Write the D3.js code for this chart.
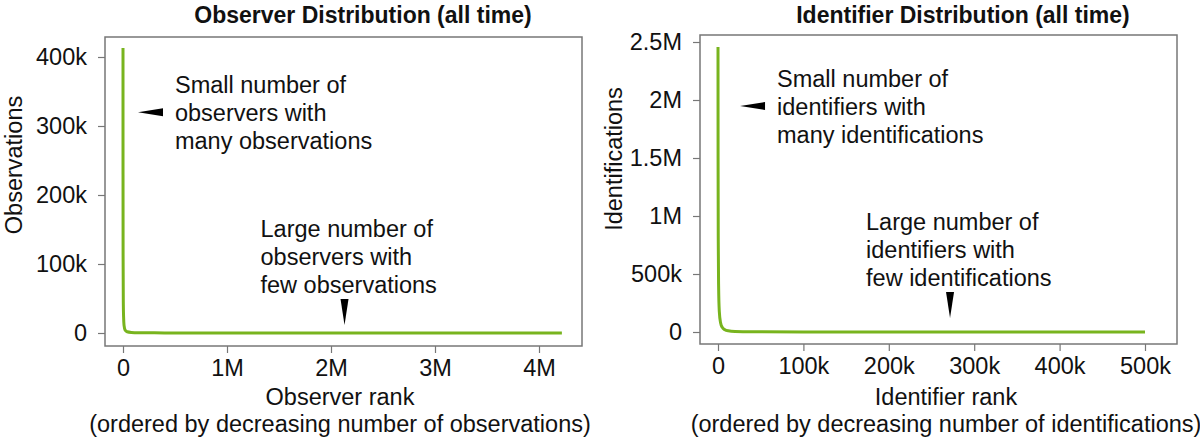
<!DOCTYPE html>
<html lang="en">
<head>
<meta charset="UTF-8">
<title>Observer and Identifier Distribution</title>
<script src="https://d3js.org/d3.v7.min.js"></script>
<style>
  body {margin:0; background:#fff;}
  text {font-family: "Liberation Sans", Arial, sans-serif; fill:#111;}
</style>
</head>
<body>
<div id="chart"></div>
<script>
// observer rank vs observations
var obsRank  = [1, 300, 1000, 3000, 6000, 10000, 20000, 40000, 80000, 150000, 400000, 1000000, 2000000, 3000000, 4220000];
var obsCount = [413000, 230000, 110000, 45000, 22000, 11000, 4500, 1800, 800, 400, 150, 60, 20, 5, 1];

// identifier rank vs identifications
var idRank  = [1, 100, 300, 700, 1500, 3000, 5000, 8000, 12000, 20000, 40000, 100000, 200000, 300000, 400000, 500000];
var idCount = [2457000, 1500000, 800000, 400000, 180000, 80000, 40000, 20000, 10000, 4500, 1800, 600, 150, 50, 15, 1];

var obsXTicks = [0, 1e6, 2e6, 3e6, 4e6];
var obsXLabels = ["0", "1M", "2M", "3M", "4M"];
var obsYTicks = [0, 1e5, 2e5, 3e5, 4e5];
var obsYLabels = ["0", "100k", "200k", "300k", "400k"];

var idXTicks = [0, 1e5, 2e5, 3e5, 4e5, 5e5];
var idXLabels = ["0", "100k", "200k", "300k", "400k", "500k"];
var idYTicks = [0, 5e5, 1e6, 1.5e6, 2e6, 2.5e6];
var idYLabels = ["0", "500k", "1M", "1.5M", "2M", "2.5M"];

var w = 1200;
var h = 444;
var green = "#78b41e";
var grey = "#777";
var fs = "23.5px";

var svg = d3.select("#chart").append("svg")
    .attr("width", w)
    .attr("height", h);

function panel(p) {
    var g = svg.append("g");
    var x = d3.scaleLinear().domain(p.xDomain).range(p.xRange);
    var y = d3.scaleLinear().domain(p.yDomain).range(p.yRange);

    // frame
    g.append("rect")
        .attr("x", p.box[0]).attr("y", p.box[1])
        .attr("width", p.box[2] - p.box[0]).attr("height", p.box[3] - p.box[1])
        .attr("fill", "none").attr("stroke", grey).attr("stroke-width", 1.5);

    var xAxis = d3.axisBottom(x).tickValues(p.xTicks)
        .tickFormat(function(d, i) {return p.xLabels[i];})
        .tickSize(7).tickPadding(6);
    var yAxis = d3.axisLeft(y).tickValues(p.yTicks)
        .tickFormat(function(d, i) {return p.yLabels[i];})
        .tickSize(7).tickPadding(11);

    var gx = g.append("g").attr("transform", "translate(0," + p.box[3] + ")").call(xAxis);
    var gy = g.append("g").attr("transform", "translate(" + p.box[0] + ",0)").call(yAxis);
    [gx, gy].forEach(function(a) {
        a.select(".domain").remove();
        a.selectAll("line").attr("stroke", grey).attr("stroke-width", 1.2);
        a.selectAll("text").attr("font-size", fs)
            .attr("font-family", "'Liberation Sans', Arial, sans-serif").attr("fill", "#111");
    });

    // curve
    var pts = p.ranks.map(function(r, i) {return [r, p.counts[i]];});
    g.append("path")
        .datum(pts)
        .attr("fill", "none")
        .attr("stroke", green)
        .attr("stroke-width", 3)
        .attr("stroke-linejoin", "round")
        .attr("d", d3.line()
            .x(function(d) {return x(d[0]);})
            .y(function(d) {return y(d[1]);})
            .curve(d3.curveMonotoneX));

    // title
    g.append("text")
        .attr("x", p.titleX).attr("y", 23)
        .attr("text-anchor", "middle")
        .attr("font-size", "23px").attr("font-weight", "bold")
        .text(p.title);

    // axis titles
    g.append("text")
        .attr("x", p.xTitleX).attr("y", 405)
        .attr("text-anchor", "middle").attr("font-size", fs)
        .text(p.xTitle);
    g.append("text")
        .attr("x", p.xTitleX).attr("y", 432)
        .attr("text-anchor", "middle").attr("font-size", fs)
        .text(p.xSub);
    g.append("text")
        .attr("transform", "translate(" + p.yTitlePos[0] + "," + p.yTitlePos[1] + ") rotate(-90)")
        .attr("text-anchor", "middle").attr("font-size", fs)
        .text(p.yTitle);

    // left pointing arrow with note
    var ax = x(p.leftArrow[0]), ay = y(p.leftArrow[1]);
    g.append("path")
        .attr("d", "M" + ax + "," + ay + "L" + (ax + 25) + "," + (ay - 4) + "L" + (ax + 25) + "," + (ay + 4) + "Z")
        .attr("fill", "#000");
    p.leftNote.forEach(function(t, i) {
        g.append("text")
            .attr("x", ax + 37).attr("y", ay - 19 + i * 28)
            .attr("font-size", fs)
            .text(t);
    });

    // down pointing arrow with note
    var dx = x(p.downArrow[0]), dy = y(p.downArrow[1]);
    g.append("path")
        .attr("d", "M" + dx + "," + dy + "L" + (dx - 4) + "," + (dy - 26) + "L" + (dx + 4) + "," + (dy - 26) + "Z")
        .attr("fill", "#000");
    p.downNote.forEach(function(t, i) {
        g.append("text")
            .attr("x", dx - 84).attr("y", dy - 26 - 62 + i * 28)
            .attr("font-size", fs)
            .text(t);
    });
}

panel({
    xDomain: [0, 4e6], xRange: [123, 539],
    yDomain: [0, 4e5], yRange: [333, 57],
    box: [105, 37, 582, 346],
    xTicks: obsXTicks, xLabels: obsXLabels,
    yTicks: obsYTicks, yLabels: obsYLabels,
    ranks: obsRank, counts: obsCount,
    title: "Observer Distribution (all time)", titleX: 363,
    xTitle: "Observer rank",
    xSub: "(ordered by decreasing number of observations)", xTitleX: 340,
    yTitle: "Observations", yTitlePos: [22, 165],
    leftArrow: [144000, 320000],
    leftNote: ["Small number of", "observers with", "many observations"],
    downArrow: [2130000, 11600],
    downNote: ["Large number of", "observers with", "few observations"]
});

panel({
    xDomain: [0, 5e5], xRange: [718, 1145],
    yDomain: [0, 2.5e6], yRange: [332, 42],
    box: [700, 35, 1177, 344],
    xTicks: idXTicks, xLabels: idXLabels,
    yTicks: idYTicks, yLabels: idYLabels,
    ranks: idRank, counts: idCount,
    title: "Identifier Distribution (all time)", titleX: 963,
    xTitle: "Identifier rank",
    xSub: "(ordered by decreasing number of identifications)", xTitleX: 946,
    yTitle: "Identifications", yTitlePos: [622, 159],
    leftArrow: [25800, 1948000],
    leftNote: ["Small number of", "identifiers with", "many identifications"],
    downArrow: [271700, 120000],
    downNote: ["Large number of", "identifiers with", "few identifications"]
});
</script>
</body>
</html>
